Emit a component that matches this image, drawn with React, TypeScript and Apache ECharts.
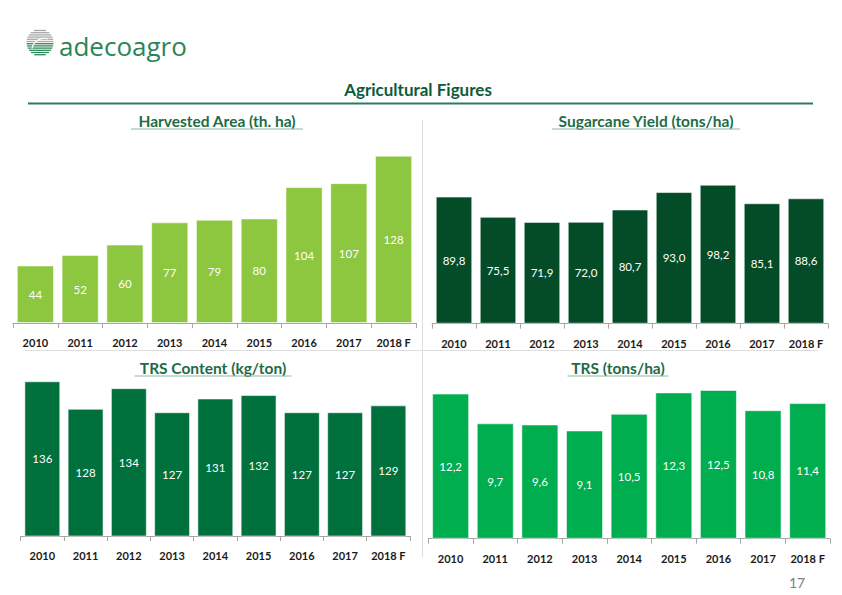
import React, { useEffect, useRef } from "react";
import * as echarts from "echarts";

const categories = ["2010", "2011", "2012", "2013", "2014", "2015", "2016", "2017", "2018 F"];
const harvestedArea = [44, 52, 60, 77, 79, 80, 104, 107, 128];
const sugarcaneYield = [89.8, 75.5, 71.9, 72.0, 80.7, 93.0, 98.2, 85.1, 88.6];
const trsContent = [136, 128, 134, 127, 131, 132, 127, 127, 129];
const trsPerHa = [12.2, 9.7, 9.6, 9.1, 10.5, 12.3, 12.5, 10.8, 11.4];

const FONT = "Lato";

const panels = [
  { data: harvestedArea, color: "#8dc63f", grid: { left: 13, top: 155.7, width: 403, height: 167.3 }, min: 0, max: 128, dec: false },
  { data: sugarcaneYield, color: "#044c27", grid: { left: 432, top: 184.7, width: 396, height: 139 }, min: 0, max: 98.2, dec: true },
  { data: trsContent, color: "#00703c", grid: { left: 20.7, top: 381.3, width: 389.3, height: 154.7 }, min: 91, max: 136, dec: false },
  { data: trsPerHa, color: "#00ad4f", grid: { left: 428.3, top: 390, width: 401.7, height: 148.7 }, min: 0, max: 12.5, dec: true },
];

const titles = [
  { text: "Harvested Area (th. ha)", x: 217, y: 121, w: 172 },
  { text: "Sugarcane Yield (tons/ha)", x: 646, y: 121, w: 188 },
  { text: "TRS Content (kg/ton)", x: 213, y: 368, w: 157 },
  { text: "TRS (tons/ha)", x: 618, y: 368, w: 101 },
];

function globe(cx: number, cy: number, r: number) {
  const els: any[] = [];
  for (let dy = -r + 1.5; dy <= r - 0.5; dy += 2.2) {
    const hw = Math.sqrt(Math.max(0, r * r - dy * dy));
    const top = dy < 0;
    els.push({
      type: "line",
      shape: { x1: cx - hw, y1: cy + dy, x2: cx + hw, y2: cy + dy },
      style: { stroke: top ? "#a8a8a8" : "#2f8a5a", lineWidth: 1.3 },
    });
  }
  els.push({
    type: "arc",
    shape: { cx: cx + 4, cy: cy + 8, r: r * 0.9, startAngle: Math.PI * 1.05, endAngle: Math.PI * 1.6 },
    style: { stroke: "#ffffff", lineWidth: 1.2, fill: "none" },
  });
  return els;
}

export default function App() {
  const ref = useRef<HTMLDivElement>(null);
  useEffect(() => {
    if (!ref.current) return;
    const chart = echarts.init(ref.current, null, { renderer: "svg" });
    const graphic: any[] = [
      ...globe(40, 42.5, 13.5),
      {
        type: "text",
        x: 59,
        y: 46,
        style: { text: "adecoagro", font: `normal 26px 'Open Sans'`, fill: "#2a8558", textVerticalAlign: "middle" },
      },
      {
        type: "text",
        x: 418,
        y: 89,
        style: { text: "Agricultural Figures", font: `bold 17px ${FONT}`, fill: "#0d5a3a", textAlign: "center", textVerticalAlign: "middle" },
      },
      { type: "line", shape: { x1: 28, y1: 103.5, x2: 813, y2: 103.5 }, style: { stroke: "#2e7a5a", lineWidth: 2 } },
      { type: "line", shape: { x1: 25, y1: 350.5, x2: 818, y2: 350.5 }, style: { stroke: "#dedede", lineWidth: 1 } },
      { type: "line", shape: { x1: 422.5, y1: 120, x2: 422.5, y2: 557 }, style: { stroke: "#dedede", lineWidth: 1 } },
      {
        type: "text",
        x: 797,
        y: 582,
        style: { text: "17", font: `normal 14px ${FONT}`, fill: "#808080", textAlign: "center", textVerticalAlign: "middle" },
      },
    ];
    titles.forEach((t) => {
      graphic.push({
        type: "text",
        x: t.x,
        y: t.y,
        style: { text: t.text, font: `bold 15.5px ${FONT}`, fill: "#1e6b47", textAlign: "center", textVerticalAlign: "middle" },
      });
      graphic.push({
        type: "line",
        shape: { x1: t.x - t.w / 2, y1: t.y + 8, x2: t.x + t.w / 2, y2: t.y + 8 },
        style: { stroke: "#8fb9a4", lineWidth: 1.2 },
      });
    });

    const option: any = {
      animation: false,
      backgroundColor: "#ffffff",
      grid: panels.map((p) => ({ ...p.grid, containLabel: false })),
      xAxis: panels.map((p, i) => ({
        type: "category",
        gridIndex: i,
        data: categories,
        axisLine: { show: true, lineStyle: { color: "#a6a6a6", width: 1 } },
        axisTick: { show: true, length: 5, lineStyle: { color: "#a6a6a6" } },
        axisLabel: { interval: 0, margin: 14, fontSize: 11, fontWeight: "bold", color: "#1a1a1a", fontFamily: FONT },
      })),
      yAxis: panels.map((p, i) => ({
        type: "value",
        gridIndex: i,
        min: p.min,
        max: p.max,
        show: false,
        splitLine: { show: false },
      })),
      series: panels.map((p, i) => ({
        type: "bar",
        xAxisIndex: i,
        yAxisIndex: i,
        data: p.data,
        barCategoryGap: "17%",
        itemStyle: { color: p.color, borderColor: "rgba(255,255,255,0.55)", borderWidth: 1 },
        label: {
          show: true,
          position: "inside",
          color: "#ffffff",
          fontSize: 11.5,
          fontFamily: FONT,
          formatter: (d: any) => (p.dec ? Number(d.value).toFixed(1).replace(".", ",") : String(d.value)),
        },
      })),
      graphic,
    };
    chart.setOption(option);
    return () => chart.dispose();
  }, []);
  return <div ref={ref} style={{ position: "fixed", left: 0, top: 0, width: 842, height: 595, background: "#fff" }} />;
}
